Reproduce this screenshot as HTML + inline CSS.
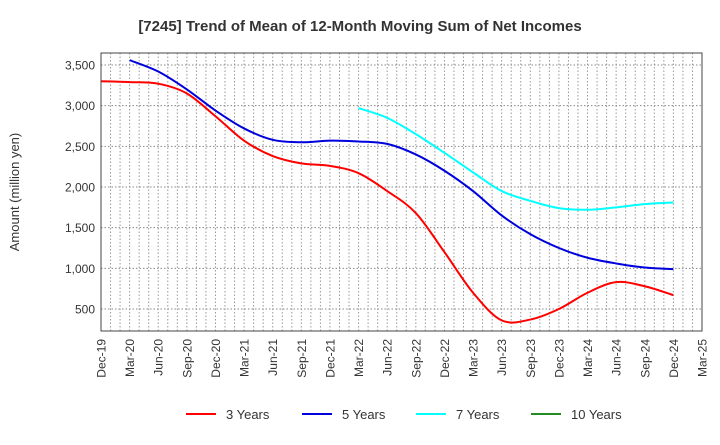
<!DOCTYPE html>
<html><head><meta charset="utf-8"><style>
body{margin:0;background:#fff;font-family:"Liberation Sans",sans-serif}
</style></head><body>
<svg id="c" width="720" height="440" xmlns="http://www.w3.org/2000/svg" font-family="Liberation Sans, sans-serif">
<text x="360" y="31" text-anchor="middle" font-size="15" font-weight="bold" fill="#333">[7245]  Trend of Mean of 12-Month Moving Sum of Net Incomes</text>
<text transform="translate(19,192) rotate(-90)" text-anchor="middle" font-size="13" fill="#333">Amount (million yen)</text>
<g id="grid"></g><g id="series"></g><g id="axes"></g><g id="legend"></g>
</svg>
<script>
const categories=["Dec-19","Mar-20","Jun-20","Sep-20","Dec-20","Mar-21","Jun-21","Sep-21","Dec-21","Mar-22","Jun-22","Sep-22","Dec-22","Mar-23","Jun-23","Sep-23","Dec-23","Mar-24","Jun-24","Sep-24","Dec-24","Mar-25"];
const yTicks=[500,1000,1500,2000,2500,3000,3500];
const yTickLabels=["500","1,000","1,500","2,000","2,500","3,000","3,500"];
const seriesNames=["3 Years","5 Years","7 Years","10 Years"];
const seriesColors=["#ff0000","#0000dd","#00ffff","#228b22"];
const s3=[3300,3290,3270,3150,2870,2570,2380,2290,2260,2170,1950,1680,1200,700,360,370,500,700,830,780,670];
const s5=[null,3560,3420,3200,2940,2720,2580,2550,2570,2560,2530,2400,2200,1950,1650,1420,1250,1130,1060,1010,990];
const s7=[null,null,null,null,null,null,null,null,null,2970,2850,2650,2420,2180,1950,1830,1740,1720,1750,1790,1810];
const s10=[];
const L=101,R=702,T=53,B=331;
const X=i=>L+i*(R-L)/(categories.length-1);
const Y=v=>309-(v-500)*(244/3000);
const NS="http://www.w3.org/2000/svg";
function mk(tag,attrs,parent){const e=document.createElementNS(NS,tag);for(const k in attrs)e.setAttribute(k,attrs[k]);parent.appendChild(e);return e;}
const grid=document.getElementById('grid'),axes=document.getElementById('axes'),ser=document.getElementById('series'),leg=document.getElementById('legend');
const nMonths=(categories.length-1)*3;
for(let m=1;m<nMonths;m++){const x=L+m*(R-L)/nMonths;
const g=mk('line',{x1:x,x2:x,y1:T,y2:B,stroke:'#999','stroke-dasharray':'1.5,2','stroke-width':1},grid);

}
yTicks.forEach((v,i)=>{const y=Y(v);
const g=mk('line',{x1:L,x2:R,y1:y,y2:y,stroke:'#888','stroke-dasharray':'1.5,2','stroke-width':1},grid);


const t=mk('text',{x:L-6,y:y+4.5,'text-anchor':'end','font-size':12,fill:'#333'},axes);t.textContent=yTickLabels[i];

});
categories.forEach((c,i)=>{const x=X(i);
const t=mk('text',{transform:`translate(${x+4.5},${B+8}) rotate(-90)`,'text-anchor':'end','font-size':12,fill:'#333'},axes);t.textContent=c;

});
const fr=mk('rect',{x:L,y:T,width:R-L,height:B-T,fill:'none',stroke:'#444','stroke-width':1},axes);


function path(arr){const p=[];arr.forEach((v,i)=>{if(v!=null)p.push([X(i),Y(v)]);});if(p.length<2)return '';
let d=`M${p[0][0]},${p[0][1]}`;
for(let i=0;i<p.length-1;i++){const p0=p[i-1]||p[i],p1=p[i],p2=p[i+1],p3=p[i+2]||p2;
const c1=[p1[0]+(p2[0]-p0[0])/6,p1[1]+(p2[1]-p0[1])/6],c2=[p2[0]-(p3[0]-p1[0])/6,p2[1]-(p3[1]-p1[1])/6];
d+=` C${c1[0]},${c1[1]} ${c2[0]},${c2[1]} ${p2[0]},${p2[1]}`;}return d;}
[s3,s5,s7,s10].forEach((s,k)=>{const d=path(s);if(!d)return;
const e=mk('path',{d:d,fill:'none',stroke:seriesColors[k],'stroke-width':2},ser);

});
const lx=[186,302,416,531];
seriesNames.forEach((n,k)=>{
const g=mk('g',{},leg);


mk('line',{x1:lx[k],x2:lx[k]+30,y1:414,y2:414,stroke:seriesColors[k],'stroke-width':2},g);
const t=mk('text',{x:lx[k]+40,y:419,'font-size':13,fill:'#333'},g);t.textContent=n;});
</script>
</body></html>
